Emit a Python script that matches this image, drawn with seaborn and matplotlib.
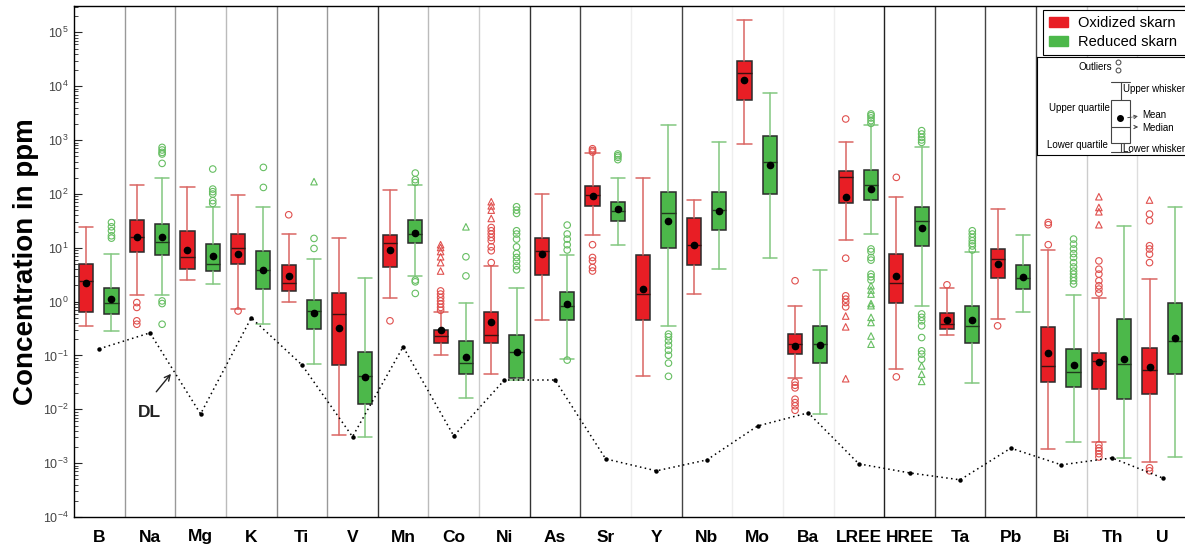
import numpy as np
import pandas as pd
import matplotlib
matplotlib.use("Agg")
import matplotlib.pyplot as plt
from matplotlib.patches import Patch, Rectangle
import seaborn as sns

# ---------------------------------------------------------------- data (ppm)
elements = ["B", "Na", "Mg", "K", "Ti", "V", "Mn", "Co", "Ni", "As", "Sr",
            "Y", "Nb", "Mo", "Ba", "LREE", "HREE", "Ta", "Pb", "Bi", "Th", "U"]

# Oxidized skarn: whiskers, quartiles, median, mean
ox_whislo = [0.355, 1.34, 2.5, 0.72, 1.0, 0.0034, 1.19, 0.101, 0.045, 0.46, 17.5,
             0.042, 1.38, 847, 0.038, 14.1, 0.056, 0.24, 0.47, 0.0018, 0.0025, 0.00105]
ox_q1 = [0.65, 8.5, 4.1, 5.0, 1.58, 0.066, 4.4, 0.169, 0.169, 3.15, 58.6,
         0.46, 4.8, 5470, 0.108, 67.7, 0.96, 0.31, 2.8, 0.032, 0.024, 0.019]
ox_med = [2.44, 16, 6.8, 10.1, 2.26, 0.59, 12.2, 0.231, 0.238, 8.8, 96.6,
          1.38, 11.4, 17660, 0.162, 209, 2.17, 0.38, 6.2, 0.064, 0.079, 0.054]
ox_mean = [2.26, 15.7, 9.2, 7.6, 2.98, 0.32, 9.1, 0.295, 0.42, 7.8, 89.8,
           1.71, 11.4, 13280, 0.151, 86, 2.93, 0.45, 5.0, 0.113, 0.076, 0.061]
ox_q3 = [5.1, 33, 20.7, 18, 4.8, 1.44, 17.2, 0.30, 0.65, 15.5, 142,
         7.3, 35.6, 29900, 0.255, 262, 7.6, 0.61, 9.5, 0.344, 0.113, 0.14]
ox_whishi = [24.5, 148, 132, 95.4, 18.4, 15.5, 120, 0.65, 4.5, 99.5, 576,
             194, 77, 173000, 0.82, 933, 86, 1.78, 52.4, 9.1, 1.19, 2.62]

# Reduced skarn: whiskers, quartiles, median, mean
rd_whislo = [0.29, 1.33, 2.1, 0.38, 0.069, 0.0031, 2.93, 0.016, 0.035, 0.085, 11.4,
             0.355, 3.95, 6.4, 0.0083, 18, 0.84, 0.031, 0.65, 0.0025, 0.00127, 0.0013]
rd_q1 = [0.60, 7.4, 3.7, 1.68, 0.31, 0.0124, 12.2, 0.045, 0.038, 0.46, 30.8,
         9.7, 21.3, 99.5, 0.072, 78, 10.9, 0.169, 1.71, 0.026, 0.0154, 0.045]
rd_med = [0.94, 12.6, 5.0, 3.9, 0.67, 0.042, 18, 0.072, 0.117, 0.82, 48.7,
          43.4, 50.2, 385, 0.162, 148, 31.8, 0.355, 2.73, 0.0496, 0.069, 0.187]
rd_mean = [1.13, 15.7, 7.1, 3.9, 0.61, 0.039, 19.2, 0.095, 0.117, 0.90, 52.4,
           30.8, 48.7, 349, 0.158, 123, 22.8, 0.45, 2.89, 0.066, 0.0875, 0.215]
rd_q3 = [1.78, 27.6, 11.7, 8.8, 1.07, 0.117, 33, 0.189, 0.238, 1.48, 71.6,
         110, 110, 1208, 0.355, 278, 57.8, 0.84, 4.8, 0.131, 0.485, 0.96]
rd_whishi = [7.6, 194, 57.8, 57.8, 6.2, 2.69, 146, 0.96, 1.78, 7.4, 198,
             1932, 922, 7600, 3.85, 1910, 753, 8.5, 17.2, 1.33, 25.6, 57.8]

# Outliers drawn as circles / triangles
ox_out_circle = {
    "Na": [0.96, 0.78, 0.44, 0.38], "K": [0.67], "Ti": [41], "Mn": [0.44],
    "Co": [1.58, 1.38, 1.19, 1.03, 0.90, 0.78, 0.69],
    "Ni": [23.8, 20.7, 18, 15.5, 13.5, 10.4, 8.8, 5.3],
    "Sr": [690, 640, 600, 11.4, 6.6, 5.7, 4.3, 3.7],
    "Ba": [2.44, 0.032, 0.028, 0.025, 0.0154, 0.0133, 0.0116, 0.0096],
    "LREE": [2466, 6.4, 1.28, 1.11, 0.96, 0.80], "HREE": [203, 0.04],
    "Ta": [2.05], "Pb": [0.355], "Bi": [29.5, 26.8, 11.4],
    "Th": [5.7, 4.0, 3.24, 2.44, 1.97, 1.71, 1.44, 0.0022, 0.0019, 0.0017, 0.0015, 0.0013],
    "U": [42.3, 31.8, 10.9, 9.5, 7.6, 5.3, 0.00082, 0.00072],
}
ox_out_triangle = {
    "Co": [11.4, 10.1, 8.5, 6.8, 5.3, 3.7], "Ni": [71.6, 60, 50, 35],
    "LREE": [0.54, 0.34, 0.037], "Th": [88.7, 56, 46.6, 26.8], "U": [77],
}
rd_out_circle = {
    "B": [29.5, 24.5, 20.7, 16.7, 15.1],
    "Na": [731, 655, 590, 551, 369, 1.03, 0.92, 0.38],
    "Mg": [290, 123, 110, 99.5, 74.8, 66.5], "K": [311, 132], "Ti": [14.9, 9.7],
    "Mn": [244, 184, 164, 2.51, 2.33, 1.42], "Co": [6.8, 3.0],
    "Ni": [57.8, 50, 43.4, 20.7, 18, 14.5, 10.4, 7.8, 6.6, 5.6, 4.6, 3.9],
    "As": [26.4, 18, 14.5, 11.4, 9.1, 0.082], "Sr": [552, 513, 479, 433],
    "Y": [0.249, 0.222, 0.187, 0.155, 0.125, 0.101, 0.072, 0.041],
    "LREE": [3055, 2844, 2576, 2296, 2042, 9.5, 8.5, 6.6, 5.9, 3.24, 2.89, 2.51],
    "HREE": [1496, 1297, 1122, 1005, 906, 0.59, 0.51, 0.44, 0.355, 0.215, 0.122, 0.106, 0.085],
    "Ta": [20.7, 18, 15.5, 13.5, 12, 10.8, 9.1],
    "Bi": [14.5, 11.7, 9.5, 7.8, 6.6, 5.3, 4.4, 3.7, 3.24, 2.8, 2.44, 2.12],
}
rd_out_triangle = {
    "Ti": [169], "Co": [24.5],
    "LREE": [1.97, 1.64, 1.38, 0.92, 0.84, 0.51, 0.41, 0.23, 0.162],
    "HREE": [0.064, 0.045, 0.033],
}

# Detection limits
detection_limit = [0.133, 0.263, 0.0082, 0.50, 0.067, 0.0031, 0.145, 0.0032, 0.035, 0.035, 0.0012,
                   0.00072, 0.00115, 0.0049, 0.0086, 0.00097, 0.00066, 0.00049, 0.0019, 0.00093,
                   0.00125, 0.00053]

# ---------------------------------------------------------------- style
sns.set_style("ticks")
plt.rcParams["font.family"] = ["Liberation Sans", "DejaVu Sans"]
plt.rcParams["mathtext.fontset"] = "custom"
plt.rcParams["mathtext.rm"] = "Liberation Sans"
plt.rcParams["mathtext.it"] = "Liberation Sans:italic"
plt.rcParams["mathtext.bf"] = "Liberation Sans:bold"
plt.rcParams["text.color"] = "black"
plt.rcParams["axes.labelcolor"] = "black"

RED = "#E81E25"
GREEN = "#4CB84A"
RED_LINE = "#DA6663"
GREEN_LINE = "#83C780"
EDGE = "#2B2B2B"

W, H = 1185, 546
fig = plt.figure(figsize=(W / 100, H / 100), dpi=100)
ax = fig.add_axes([74 / W, 1 - 517 / H, (1188 - 74) / W, (517 - 6) / H])
ax.set_yscale("log")

n = len(elements)
x = np.arange(n)
offsets = {"Oxidized skarn": -0.26, "Reduced skarn": 0.24}

# category separators
sep_colors = ["#999999", "#999999", "#bbbbbb", "#888888", "#999999", "#333333",
              "#bbbbbb", "#cccccc", "#333333", "#444444", "#eeeeee", "#444444",
              "#eeeeee", "#eeeeee", "#eeeeee", "#222222", "#444444", "#444444",
              "#444444", "#cccccc", "#dddddd"]
for k, c in enumerate(sep_colors):
    ax.axvline(k + 0.5, color=c, lw=1.0, zorder=0)


def box_stats(lo, q1, med, mean, q3, hi):
    return [dict(whislo=lo[i], q1=q1[i], med=med[i], mean=mean[i], q3=q3[i],
                 whishi=hi[i], fliers=[]) for i in range(n)]


for name, stats, face, line in (
        ("Oxidized skarn", box_stats(ox_whislo, ox_q1, ox_med, ox_mean, ox_q3, ox_whishi), RED, RED_LINE),
        ("Reduced skarn", box_stats(rd_whislo, rd_q1, rd_med, rd_mean, rd_q3, rd_whishi), GREEN, GREEN_LINE)):
    ax.bxp(stats, positions=x + offsets[name], widths=0.28, capwidths=0.28,
           patch_artist=True, showmeans=True, showfliers=False, manage_ticks=False,
           boxprops=dict(facecolor=face, edgecolor=EDGE, linewidth=1.1),
           whiskerprops=dict(color=line, linewidth=1.1),
           capprops=dict(color=line, linewidth=1.1),
           medianprops=dict(color="#3a1010" if face == RED else "#1f3a1c", linewidth=1.0),
           meanprops=dict(marker="o", markerfacecolor="black", markeredgecolor="black",
                          markersize=4.5),
           zorder=3)

# outliers
rows = []
for name, circ, tri in (("Oxidized skarn", ox_out_circle, ox_out_triangle),
                        ("Reduced skarn", rd_out_circle, rd_out_triangle)):
    for i, el in enumerate(elements):
        for v in circ.get(el, []):
            rows.append((i + offsets[name], v, name, "circle"))
        for v in tri.get(el, []):
            rows.append((i + offsets[name], v, name, "triangle"))
outliers = pd.DataFrame(rows, columns=["x", "value", "series", "shape"])

out_colors = {"Oxidized skarn": "#E0504E", "Reduced skarn": "#66BE62"}
for (name, shape), sub in outliers.groupby(["series", "shape"]):
    sns.scatterplot(data=sub, x="x", y="value", marker="o" if shape == "circle" else "^",
                    s=22, color=out_colors[name], ax=ax, legend=False, zorder=4)
    coll = ax.collections[-1]
    coll.set_facecolor("none")
    coll.set_edgecolor(out_colors[name])
    coll.set_linewidth(0.8)

# detection-limit line
sns.lineplot(x=x, y=detection_limit, ax=ax, color="black", linestyle=(0, (1, 2.2)),
             linewidth=1.1, marker="o", markersize=3.2, markeredgewidth=0, sort=False,
             zorder=5)
ax.text(0.99, 0.0086, "DL", fontsize=12.5, fontweight="bold", ha="center", va="center",
        color="#222222")
ax.annotate("", xy=(1.45, 0.05), xytext=(1.09, 0.0193),
            arrowprops=dict(arrowstyle="->", color="#222222", lw=1.0, mutation_scale=10))

# axes
ax.set_xlim(-0.5, n - 0.5)
ax.set_ylim(1e-4, 10 ** 5.49)
ax.set_xticks(x)
ax.set_xticklabels(elements, fontsize=12.5, fontweight="bold")
ax.tick_params(axis="x", length=0, pad=9, labelcolor="black")
ax.set_yticks([10.0 ** k for k in range(-4, 6)])
ax.yaxis.set_major_formatter(matplotlib.ticker.LogFormatterSciNotation())
ax.yaxis.set_minor_locator(matplotlib.ticker.LogLocator(base=10, subs=np.arange(2, 10)))
ax.yaxis.set_minor_formatter(matplotlib.ticker.NullFormatter())
ax.tick_params(axis="y", which="major", direction="in", length=6, width=0.8,
               labelsize=9, labelcolor="#444444", pad=4)
ax.tick_params(axis="y", which="minor", direction="in", length=3, width=0.6)
ax.set_ylabel("Concentration in ppm", fontsize=20, fontweight="bold", labelpad=3,
              color="black")
ax.set_xlabel("")
for sp in ax.spines.values():
    sp.set_visible(True)
    sp.set_color("black")
    sp.set_linewidth(1.0)

# colour legend
handles = [Patch(facecolor=RED, edgecolor=RED, label="Oxidized skarn"),
           Patch(facecolor=GREEN, edgecolor=GREEN, label="Reduced skarn")]
leg = ax.legend(handles=handles, loc="upper left", mode="expand",
                bbox_to_anchor=(1043 / W, 1 - 53 / H, (1195 - 1043) / W, 43 / H),
                bbox_transform=fig.transFigure, borderaxespad=0, fontsize=10.5,
                handlelength=1.3, handleheight=0.7, handletextpad=0.7,
                labelspacing=0.35, borderpad=0.4, fancybox=False, framealpha=1)
leg.get_frame().set_edgecolor("black")
leg.get_frame().set_linewidth(0.8)
for t in leg.get_texts():
    t.set_color("black")
leg.set_zorder(10)

# box-plot key
kx = fig.add_axes([1037 / W, 1 - 155 / H, (1195 - 1037) / W, (155 - 57) / H])
kx.set_xlim(1037, 1195)
kx.set_ylim(155, 57)
kx.set_xticks([])
kx.set_yticks([])
for sp in kx.spines.values():
    sp.set_color("black")
    sp.set_linewidth(0.8)
kc = "#444444"
kx.add_patch(Rectangle((1111, 100), 19, 43, facecolor="white", edgecolor=kc, lw=0.8))
kx.plot([1111, 1130], [127, 127], color=kc, lw=0.8)
kx.plot([1120.5, 1120.5], [82, 100], color=kc, lw=0.8)
kx.plot([1111, 1130], [82, 82], color=kc, lw=0.8)
kx.plot([1120.5, 1120.5], [143, 152], color=kc, lw=0.8)
kx.plot([1111, 1130], [152, 152], color=kc, lw=0.8)
kx.plot([1120], [118], "o", color="black", markersize=4)
kx.plot([1118, 1118], [62, 70], "o", markerfacecolor="none", markeredgecolor=kc,
        markersize=3.5, markeredgewidth=0.7)
kfs = 7
kx.text(1112, 67, "Outliers", fontsize=kfs, ha="right", va="center")
kx.text(1123, 89, "Upper whisker", fontsize=kfs, ha="left", va="center")
kx.text(1110, 108, "Upper quartile", fontsize=kfs, ha="right", va="center")
kx.text(1108, 145, "Lower quartile", fontsize=kfs, ha="right", va="center")
kx.text(1123, 149, "Lower whisker", fontsize=kfs, ha="left", va="center")
kx.annotate("", xy=(1141, 116), xytext=(1125, 118),
            arrowprops=dict(arrowstyle="->", color=kc, lw=0.7, ls="--", mutation_scale=6))
kx.text(1142, 115, "Mean", fontsize=kfs, ha="left", va="center")
kx.annotate("", xy=(1141, 127), xytext=(1132, 127),
            arrowprops=dict(arrowstyle="->", color=kc, lw=0.7, mutation_scale=6))
kx.text(1142, 128, "Median", fontsize=kfs, ha="left", va="center")

fig.savefig("out.png", dpi=100)
